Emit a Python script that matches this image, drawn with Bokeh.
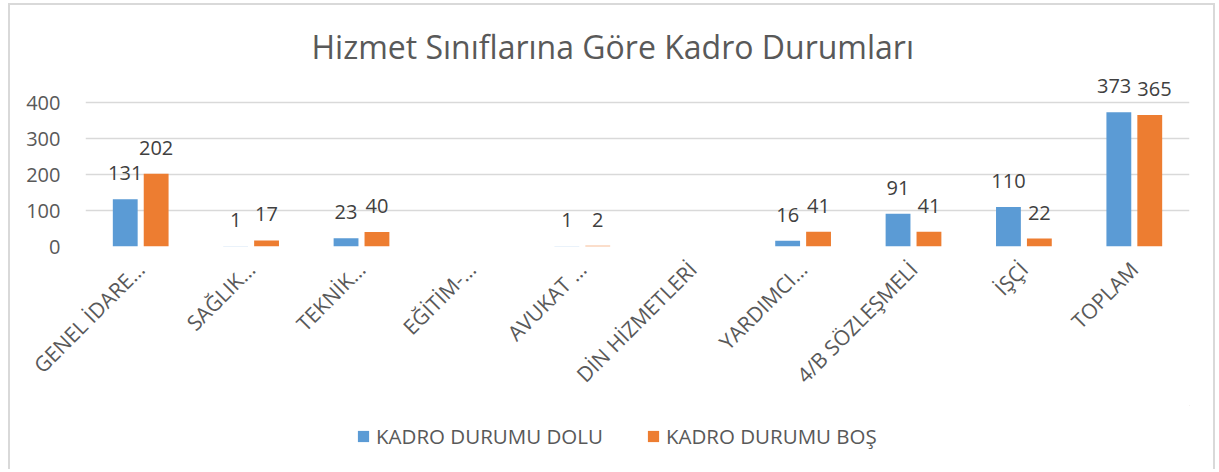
import math
from bokeh.plotting import figure
from bokeh.layouts import column
from bokeh.models import ColumnDataSource, Legend, LegendItem, Range1d, FixedTicker
from bokeh.transform import dodge
from bokeh.embed import file_html
from bokeh.resources import INLINE
from bokeh.core.properties import value

# ---- data ----
categories = ["GENEL İDARE…", "SAĞLIK…", "TEKNİK…", "EĞİTİM-…", "AVUKAT …",
              "DİN HİZMETLERİ", "YARDIMCI…", "4/B SÖZLEŞMELİ", "İŞÇİ", "TOPLAM"]
dolu = [131, 1, 23, None, 1, None, 16, 91, 110, 373]
bos = [202, 17, 40, None, 2, None, 41, 41, 22, 365]
series_names = ["KADRO DURUMU DOLU", "KADRO DURUMU BOŞ"]
y_ticks = [0, 100, 200, 300, 400]
title_text = "Hizmet Sınıflarına Göre Kadro Durumları"

BLUE = "#5B9BD5"
ORANGE = "#ED7D31"
TXT = "#595959"
GRID = "#D9D9D9"
FONT = "Open Sans"

W, H1, H2 = 1203, 400, 64
ML, MR, MT, MB = 75, 24, 67, 159
TOP_PAD = 30          # empty room above the 400 gridline for value labels
DODGE = 0.14
BAR_W = 0.225
LABEL_PX = 20

frame_w = W - ML - MR
frame_h = H1 - MT - MB
px_per_cat = frame_w / len(categories)
px_per_unit = (frame_h - TOP_PAD) / (y_ticks[-1] - y_ticks[0])
y_end = y_ticks[0] + frame_h / px_per_unit


def nz(v):
    return float("nan") if v is None else v


def lab(v):
    return "" if v is None else str(v)


# nudge overlapping label pairs apart (computed, not typed)
x_off_d, x_off_b = [], []
for a, b in zip(dolu, bos):
    if a is None or b is None:
        x_off_d.append(0); x_off_b.append(0); continue
    wa = len(str(a)) * 0.572 * LABEL_PX
    wb = len(str(b)) * 0.572 * LABEL_PX
    sep = 2 * DODGE * px_per_cat
    dy = abs(a - b) * px_per_unit
    over = (wa + wb) / 2 + 6 - sep
    if over > 0 and dy < LABEL_PX * 0.75:
        x_off_d.append(-over / 2); x_off_b.append(over / 2)
    else:
        x_off_d.append(0); x_off_b.append(0)

src = ColumnDataSource(dict(
    cat=categories,
    dolu=[nz(v) for v in dolu],
    bos=[nz(v) for v in bos],
    dolu_txt=[lab(v) for v in dolu],
    bos_txt=[lab(v) for v in bos],
    xo_d=x_off_d,
    xo_b=x_off_b,
))

p = figure(x_range=categories, y_range=Range1d(y_ticks[0], y_end),
           width=W, height=H1, output_backend="svg", toolbar_location=None,
           min_border_left=ML, min_border_right=MR, min_border_top=MT,
           min_border_bottom=MB)
p.outline_line_color = None
p.background_fill_color = "white"
p.border_fill_color = "white"

p.title.text = title_text
p.title.align = "left"
p.title.offset = 226
p.title.standoff = 10
p.title.text_font = FONT
p.title.text_font_size = "32px"
p.title.text_font_style = "normal"
p.title.text_color = TXT

r1 = p.vbar(x=dodge("cat", -DODGE, range=p.x_range), top="dolu", width=BAR_W,
            source=src, fill_color=BLUE, line_color=None)
r2 = p.vbar(x=dodge("cat", DODGE, range=p.x_range), top="bos", width=BAR_W,
            source=src, fill_color=ORANGE, line_color=None)

p.text(x=dodge("cat", -DODGE, range=p.x_range), y="dolu", text="dolu_txt",
       x_offset="xo_d", y_offset=-26, source=src, text_align="center",
       text_baseline="alphabetic", text_font=value(FONT),
       text_font_size=f"{LABEL_PX}px", text_color="#404040")
p.text(x=dodge("cat", DODGE, range=p.x_range), y="bos", text="bos_txt",
       x_offset="xo_b", y_offset=-26, source=src, text_align="center",
       text_baseline="alphabetic", text_font=value(FONT),
       text_font_size=f"{LABEL_PX}px", text_color="#404040")

p.yaxis.ticker = FixedTicker(ticks=y_ticks)
p.yaxis.axis_line_color = None
p.yaxis.major_tick_line_color = None
p.yaxis.major_tick_out = 0
p.yaxis.major_tick_in = 0
p.yaxis.minor_tick_line_color = None
p.yaxis.major_label_text_font = FONT
p.yaxis.major_label_text_font_size = "20px"
p.yaxis.major_label_text_color = TXT
p.yaxis.major_label_standoff = 25

p.xaxis.axis_line_color = None
p.xaxis.major_tick_line_color = None
p.xaxis.major_tick_out = 0
p.xaxis.major_tick_in = 0
p.xaxis.major_label_orientation = math.pi / 4
p.xaxis.major_label_text_font = FONT
p.xaxis.major_label_text_font_size = "21px"
p.xaxis.major_label_text_color = TXT
p.xaxis.major_label_standoff = 19

p.xgrid.grid_line_color = None
p.ygrid.ticker = FixedTicker(ticks=y_ticks)
p.ygrid.grid_line_color = GRID
p.ygrid.grid_line_width = 1.5

# legend strip below the chart (its frame is aligned with the chart's frame)
leg = figure(width=W, height=H2, x_range=(0, 1), y_range=(0, 1),
             x_axis_type=None, y_axis_type=None, output_backend="svg",
             toolbar_location=None, min_border=0)
leg.title = None
leg.outline_line_color = None
leg.xgrid.grid_line_color = None
leg.ygrid.grid_line_color = None
lr1 = leg.vbar(x=[2.0], top=[2.0], bottom=[1.5], width=0.1,
               fill_color=BLUE, line_color=None)
lr2 = leg.vbar(x=[2.0], top=[2.0], bottom=[1.5], width=0.1,
               fill_color=ORANGE, line_color=None)
legend = Legend(items=[LegendItem(label=series_names[0], renderers=[lr1]),
                       LegendItem(label=series_names[1], renderers=[lr2])],
                orientation="horizontal", location=(271, 19),
                glyph_width=14, glyph_height=14, label_standoff=6, spacing=43,
                label_text_font=FONT, label_text_font_size="20.5px",
                label_text_color=TXT, border_line_color=None,
                background_fill_alpha=0, padding=0, margin=0)
leg.add_layout(legend, "center")

layout = column(p, leg, spacing=0)
layout.styles = {"border": "2px solid #D9D9D9", "border-bottom": "none",
                 "margin-left": "8px", "margin-top": "3px"}

open("out.html", "w").write(file_html(layout, INLINE))
